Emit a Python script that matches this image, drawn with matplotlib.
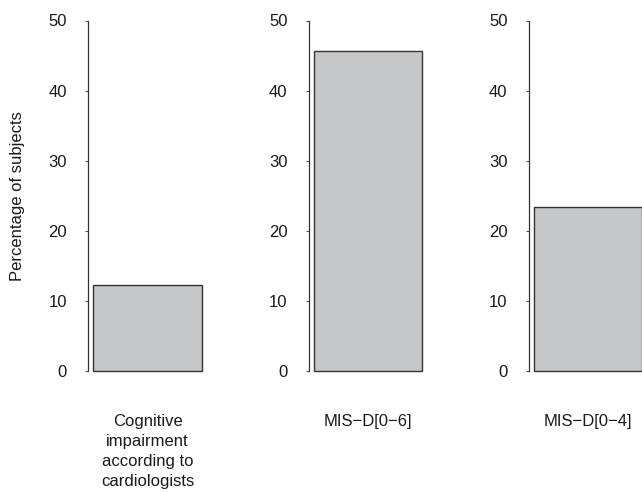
import matplotlib
matplotlib.use('Agg')
import matplotlib.pyplot as plt

# Data
categories = ['Cognitive\nimpairment\naccording to\ncardiologists', 'MIS\u2212D[0\u22126]', 'MIS\u2212D[0\u22124]']
percent = [12.2, 45.6, 23.4]
yticks = [0, 10, 20, 30, 40, 50]

plt.rcParams['font.family'] = ['Liberation Sans', 'DejaVu Sans']

W, H = 642, 492
fig = plt.figure(figsize=(W / 100, H / 100), dpi=100)

spine_x = [88.5, 309, 529]   # pixel position of each panel's y axis
ax_w = 140                    # panel width in pixels
y0, y1 = 371, 20.5            # pixel rows of 0 and 50

for i, (cat, val) in enumerate(zip(categories, percent)):
    ax = fig.add_axes([spine_x[i] / W, (H - y0) / H, ax_w / W, (y0 - y1) / H])
    ax.bar([59], [val], width=108, color='#c6c7c9', edgecolor='#333333',
           linewidth=1.0, clip_on=False)
    ax.set_xlim(0, ax_w)
    ax.set_ylim(0, 50)
    ax.set_yticks(yticks)
    ax.set_yticklabels([str(t) for t in yticks], fontsize=12, color='#1a1a1a')
    ax.tick_params(axis='y', direction='out', length=2.5, width=0.8,
                   color='#555555', pad=13)
    ax.set_xticks([59])
    ax.set_xticklabels([cat], fontsize=12, color='#1a1a1a', linespacing=1.42)
    ax.tick_params(axis='x', length=0, pad=31)
    for s in ['top', 'right', 'bottom']:
        ax.spines[s].set_visible(False)
    ax.spines['left'].set_color('#333333')
    ax.spines['left'].set_linewidth(0.9)
    ax.patch.set_alpha(0)

fig.text(17.5 / W, (H - 196) / H, 'Percentage of subjects', rotation=90,
         ha='center', va='center', fontsize=12, color='#1a1a1a')

fig.savefig('out.png', dpi=100)
